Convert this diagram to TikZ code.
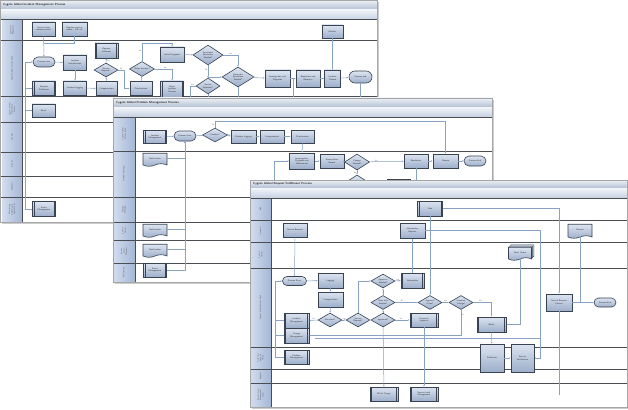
\documentclass[tikz,border=0pt]{standalone}
\usepackage{tikz}
\usetikzlibrary{positioning,arrows.meta,calc,shapes.geometric,shapes.misc,shapes.symbols,shadows}

\definecolor{boxtop}{HTML}{DCE4F0}
\definecolor{boxbot}{HTML}{9DAFCB}
\definecolor{boxline}{HTML}{394352}
\definecolor{connline}{HTML}{88A2C4}
\definecolor{lanegray}{HTML}{4A4D52}
\definecolor{titletop}{HTML}{EDF1F6}
\definecolor{titlebot}{HTML}{B3C0D3}
\definecolor{subtop}{HTML}{F3F6FA}
\definecolor{subbot}{HTML}{C3CFE1}
\definecolor{headleft}{HTML}{D3DDEE}
\definecolor{headright}{HTML}{A3B7D6}
\definecolor{tagred}{HTML}{C0282A}

\newcommand{\boxfont}{\fontsize{2.2}{2.6}\selectfont\sffamily}
\newcommand{\titlefont}{\fontsize{3}{3.5}\selectfont\sffamily\bfseries}
\newcommand{\headfont}{\fontsize{2}{2.4}\selectfont\sffamily}
\newcommand{\ynfont}{\fontsize{1.8}{2}\selectfont\sffamily}

\begin{document}
\begin{tikzpicture}[x=1pt, y=-1pt,
  proc/.style={rectangle, draw=boxline, line width=0.6pt, top color=boxtop, bottom color=boxbot,
    text width=20pt, minimum height=14pt, inner sep=1.5pt, align=center, font=\boxfont, text=black!80},
  subproc/.style={proc, path picture={\draw[boxline, line width=0.7pt]
    ([xshift=1.6pt]path picture bounding box.north west) -- ([xshift=1.6pt]path picture bounding box.south west)
    ([xshift=-1.6pt]path picture bounding box.north east) -- ([xshift=-1.6pt]path picture bounding box.south east);}},
  decision/.style={diamond, aspect=1.8, draw=boxline, line width=0.6pt, top color=boxtop, bottom color=boxbot,
    minimum width=25pt, minimum height=14pt, inner sep=0pt, align=center, font=\boxfont, text=black!80},
  term/.style={rounded rectangle, draw=boxline, line width=0.6pt, top color=boxtop, bottom color=boxbot,
    minimum width=24pt, minimum height=10pt, inner sep=1pt, align=center, font=\boxfont, text=black!80},
  doc/.style={tape, tape bend top=none, tape bend height=2.5pt, draw=boxline, line width=0.6pt,
    top color=boxtop, bottom color=boxbot, minimum width=24pt, minimum height=13pt, inner sep=1pt,
    align=center, font=\boxfont, text=black!80},
  multidoc/.style={doc,
    copy shadow={shadow xshift=2.4pt, shadow yshift=2.4pt, draw=boxline, fill=boxtop, line width=0.5pt},
    copy shadow={shadow xshift=1.2pt, shadow yshift=1.2pt, draw=boxline, fill=boxtop, line width=0.5pt}},
  numtag/.style={font=\ynfont, text=tagred, inner sep=0.4pt, anchor=north west},
  tagged/.style={label={[numtag]north west:#1}},
  yn/.style={font=\ynfont, inner sep=0.3pt, text=black!70},
  conn/.style={draw=connline, line width=0.5pt, -{Latex[length=1.6pt,width=1.4pt]}},
  connplain/.style={draw=connline, line width=0.5pt},
  lanesep/.style={draw=lanegray, line width=1pt},
  lanehead/.style={font=\headfont, rotate=90, align=center, text=black!70, inner sep=0pt},
  titletext/.style={font=\titlefont, text=black!85, anchor=west, inner sep=0pt},
  panelshadow/.style={drop shadow={shadow xshift=1.8pt, shadow yshift=-1.8pt, opacity=0.4}},
  panelframe/.style={draw=gray!70, line width=0.5pt}
]
\useasboundingbox (0,0) rectangle (628,409);
\fill[white] (0,0) rectangle (628,409);

% Incident management (back panel)
\begin{scope}[shift={(0,0)}]
\fill[white, panelshadow] (0,0) rectangle (377,222);
\shade[top color=titletop, bottom color=titlebot] (0,0) rectangle (377,9.5);
\shade[top color=subtop, bottom color=subbot] (0,9.5) rectangle (377,20);
\shade[left color=headleft, right color=headright] (2,20) rectangle (22,222);
\node[titletext] (p1title) at (3,4.8) {Cygate Global Incident Management Process};
\foreach \yy in {20,40.5,97,122,152,176,197} {\draw[lanesep] (0,\yy) -- (377,\yy);}
\draw[lanegray, line width=0.6pt] (22,20) -- (22,222);
\draw[panelframe] (0,0) rectangle (377,222);
\foreach \ya/\yb/\txt [count=\i] in {20/40.5/{Customer\\Requester}, 40.5/97/{Cygate Global Service Desk},
    97/122/{Cygate Global\\Operations\\Centre}, 122/152/{2nd Line}, 152/176/{3rd Line},
    176/197/{Suppliers}, 197/222/{Monitoring\\Systems and\\Applications}}
  {\node[lanehead] (p1h\i) at (12,{(\ya+\yb)/2}) {\txt};}

\node[proc] (custPortal) at (43.5,29) {Contact from\\customer portal};
\node[proc, text width=22pt] (custMail) at (74.5,29) {Regular email or\\phone / HR call};
\node[proc, text width=18pt, minimum height=13pt] (monitor) at (332.5,31.5) {Monitor};
\node[term] (incStart) at (44,62) {Process start};
\node[proc, minimum height=15pt, tagged=1] (incIdent) at (75,62.5) {Incident\\Identification};
\node[subproc] (reqFul) at (44,88) {Request\\Fulfilment};
\node[proc, tagged=2] (incLog) at (75,88) {Incident Logging};
\node[subproc, minimum height=15pt] (reqSub) at (106.5,50.5) {Request\\fulfilment};
\node[decision, minimum width=24pt] (srvReq) at (106,70) {Service\\Request?};
\node[proc, text width=18pt, tagged=3] (incCat) at (106.5,88.5) {Categorization};
\node[decision, minimum height=15pt] (majInc) at (142,69) {Major Incident?};
\node[proc, text width=19pt, tagged=4] (incPrio) at (141,88.5) {Prioritization};
\node[proc, text width=21pt, minimum height=15pt, tagged=5] (initDiag) at (172,54.5) {Initial Diagnosis};
\node[subproc, minimum height=16pt] (majProc) at (172,89) {Major\\Incident\\Process};
\node[decision, minimum width=30pt, minimum height=20pt] (funcEsc) at (208,55) {Functional\\Escalation\\Needed?};
\node[decision, minimum width=24pt, minimum height=16pt] (srvReq2) at (208,86) {Service\\Resolved?};
\node[decision, minimum width=32pt, minimum height=20pt] (hierEsc) at (238,77) {Hierarchic\\Escalation\\Needed?};
\node[proc, text width=22pt, minimum height=17pt, tagged=6] (invDiag) at (277.5,78.5) {Investigation and\\Diagnosis};
\node[proc, text width=21pt, minimum height=17pt, tagged=7] (resRec) at (308,78.5) {Resolution and\\Recovery};
\node[proc, text width=13pt, minimum height=17pt, tagged=8] (incClose) at (332.5,78.5) {Incident\\Closure};
\node[term, minimum width=25pt, minimum height=12pt, tagged=9] (incEnd) at (360.5,77) {Process end};
\node[proc, minimum height=13pt] (email) at (43.5,110.5) {Email};
\node[subproc, minimum height=15pt] (evtMgmt) at (44,209) {Event\\Management};

\coordinate (p1join) at (43.5,43.5);
\coordinate (p1mid) at (208,77);
\coordinate (p1a) at (190,112);
\coordinate (p1b) at (238,112);
\coordinate (p1c) at (360.5,112);
\coordinate (p1d) at (208,112);
\coordinate (p1e) at (293,112);
\draw[conn] (custPortal) -- (incStart);
\draw[connplain] (custMail.south) |- (p1join);
\draw[conn] (incStart) -- (incIdent);
\draw[conn] (incIdent) -- (incLog);
\draw[conn] (incLog) -- (incCat);
\draw[conn] (incCat) -- (srvReq);
\draw[conn] (srvReq) -- node[yn, right] (yn1) {Yes} (reqSub);
\draw[conn] (srvReq.east) -- node[yn, above] (yn2) {No} ++(6,0) |- (incPrio.west);
\draw[conn] (incPrio) -- (majInc);
\draw[conn] (majInc.north) |- node[yn, pos=0.3, left] (yn3) {No} (172,43.5) -- (initDiag.north);
\draw[conn] (majInc.east) -| node[yn, pos=0.3, above] (yn4) {Yes} (majProc.north);
\draw[conn] (initDiag) -- (funcEsc);
\draw[conn] (funcEsc.east) -| node[yn, pos=0.25, above] (yn5) {Yes} (hierEsc.north);
\draw[conn] (funcEsc) -- node[yn, pos=0.35, left] (yn6) {No} (srvReq2);
\draw[conn] (p1mid) -- (hierEsc.west);
\draw[conn] (srvReq2.west) -| node[yn, pos=0.3, above] (yn7) {Yes} (p1a);
\draw[conn] (srvReq2.south) -- node[yn, pos=0.4, right] (yn8) {No} (p1d);
\draw[conn] (hierEsc) -- (invDiag);
\draw[conn] (hierEsc.south) -- (p1b);
\draw[conn] (invDiag) -- (resRec);
\draw[connplain] (p1e) -- ++(0,-33.5);
\draw[conn] (resRec) -- (incClose);
\draw[conn] (incClose) -- (incEnd);
\draw[conn] (monitor) -- (incClose);
\draw[conn] (incEnd.south) -- (p1c);
\draw[conn] (evtMgmt.west) -- ++(-7,0) |- (incStart.west);
\draw[connplain] (email.west) -- ++(-7,0);
\draw[connplain] (reqFul.west) -- ++(-7,0);
\end{scope}

% Problem management (middle panel)
\begin{scope}[shift={(113,98)}]
\fill[white, panelshadow] (0,0) rectangle (379,184);
\shade[top color=titletop, bottom color=titlebot] (0,0) rectangle (379,9);
\shade[top color=subtop, bottom color=subbot] (0,9) rectangle (379,19);
\shade[left color=headleft, right color=headright] (0,19) rectangle (22,184);
\node[titletext] (p2title) at (3,4.5) {Cygate Global Problem Management Process};
\foreach \yy in {19,53,99,124,142,165} {\draw[lanesep] (0,\yy) -- (379,\yy);}
\draw[lanegray, line width=0.6pt] (22,19) -- (22,184);
\draw[panelframe] (0,0) rectangle (379,184);
\foreach \ya/\yb/\txt [count=\i] in {19/53/{Cygate Global\\Service Desk}, 53/99/{Problem Manager},
    99/124/{Change\\Manager}, 124/142/{Service\\Owner}, 142/165/{Service\\Level\\Manager}, 165/184/{Monitoring}}
  {\node[lanehead] (p2h\i) at (11,{(\ya+\yb)/2}) {\txt};}

\node[subproc, minimum height=13pt] (prbIncMgmt) at (42,39) {Incident\\Management};
\node[term] (prbStart) at (72,38) {Process Start};
\node[decision] (isProblem) at (102,37) {Problem?};
\node[proc, text width=22pt, minimum height=13pt, tagged=1] (prbLog) at (130.5,38.5) {Problem Logging};
\node[proc, text width=21pt, minimum height=13pt, tagged=2] (prbCat) at (159,38.5) {Categorization};
\node[proc, minimum height=13pt, tagged=3] (prbPrio) at (189.5,38.5) {Prioritization};
\node[doc] (prbNotif) at (42,60.5) {Notification};
\node[proc, text width=22pt, minimum height=16pt, tagged=4] (prbInv) at (189,63) {Investigation,\\Diagnosis and\\Workaround};
\node[proc, text width=21pt, tagged=5] (prbKer) at (219,63) {Known Error\\Record};
\node[decision, minimum height=16pt] (chgNeed) at (244,64) {Change\\Needed?};
\node[proc, text width=21pt, tagged=6] (prbRes) at (303,63) {Resolution};
\node[proc, text width=22pt, tagged=7] (prbClose) at (332.5,63) {Closure};
\node[term, tagged=8] (prbEnd) at (362,63) {Process End};
\node[decision, minimum height=16pt] (chgDec2) at (244,85) {Change\\Approved?};
\node[subproc] (chgMgmt) at (286,88) {Change\\Management};
\node[doc] (prbNotif2) at (42,131.5) {Notification};
\node[doc] (prbNotif3) at (42,151.5) {Notification};
\node[subproc] (prbEvt) at (42,172) {Event\\Management};

\coordinate (p2in) at (161,95);
\coordinate (p2out) at (303,95);
\draw[conn] (prbIncMgmt) -- (prbStart);
\draw[conn] (prbStart) -- (isProblem);
\draw[conn] (isProblem) -- node[yn, above] (yn9) {Yes} (prbLog);
\draw[conn] (isProblem.north) -- node[yn, pos=0.4, left] (yn10) {No} ++(0,-6) -| (prbClose.north);
\draw[conn] (prbLog) -- (prbCat);
\draw[conn] (prbCat) -- (prbPrio);
\draw[conn] (prbPrio) -- (prbInv);
\draw[conn] (prbInv) -- (prbKer);
\draw[conn] (prbKer) -- (chgNeed);
\draw[conn] (chgNeed) -- node[yn, pos=0.2, above] (yn11) {No} (prbRes);
\draw[conn] (prbRes) -- (prbClose);
\draw[conn] (prbClose) -- (prbEnd);
\draw[conn] (chgNeed) -- node[yn, left] (yn12) {Yes} (chgDec2);
\draw[conn] (chgDec2) -- node[yn, pos=0.3, above] (yn13) {Yes} (chgMgmt);
\draw[conn] (p2in) |- (prbInv.west);
\draw[conn] (prbRes.south) -- (p2out);
\draw[conn] (prbNotif.east) -| (prbStart.south);
\draw[conn] (prbNotif2.east) -| (prbStart.south);
\draw[conn] (prbNotif3.east) -| (prbStart.south);
\draw[conn] (prbEvt.east) -| (prbStart.south);
\end{scope}

% Request fulfilment (front panel)
\begin{scope}[shift={(250,180)}]
\fill[white, panelshadow] (0,0) rectangle (377,227);
\shade[top color=titletop, bottom color=titlebot] (0,0) rectangle (377,8);
\shade[top color=subtop, bottom color=subbot] (0,8) rectangle (377,18);
\shade[left color=headleft, right color=headright] (0,18) rectangle (21,227);
\node[titletext] (p3title) at (3,4) {Cygate Global Request Fulfillment Process};
\foreach \yy in {18,40,62,88,167,189,203} {\draw[lanesep] (0,\yy) -- (377,\yy);}
\draw[lanegray, line width=0.6pt] (21,18) -- (21,227);
\draw[panelframe] (0,0) rectangle (377,227);
\foreach \ya/\yb/\txt [count=\i] in {18/40/{Web}, 40/62/{Customer}, 62/88/{Service\\Owner},
    88/167/{Cygate Global Service Desk}, 167/189/{Technical\\Support\\Group}, 189/203/{Supplier},
    203/227/{Service Level\\Management\\Team}}
  {\node[lanehead] (p3h\i) at (10.5,{(\ya+\yb)/2}) {\txt};}

\node[subproc, text width=22pt, minimum height=15pt] (rqWeb) at (180,28.5) {Web};
\node[proc, text width=21pt] (rqSrvReq) at (45,50) {Service Request};
\node[proc, text width=22pt, minimum height=15pt] (rqInfo) at (162.5,50.5) {Information\\Request};
\node[doc, minimum height=14pt] (rqDoc) at (330,50) {Receipt};
\node[multidoc, minimum width=23pt, tagged=1] (rqWork) at (270,72.5) {Work Orders};
\node[term, minimum width=26pt, minimum height=9pt] (rqStart) at (44.5,101) {Process Start};
\node[proc, text width=22pt, minimum height=15pt, tagged=2] (rqLog) at (80.5,100.5) {Logging};
\node[proc, text width=22pt, minimum height=15pt] (rqCat) at (80.5,119.5) {Categorization};
\node[decision, minimum width=24pt] (rqDec1) at (80,140) {Standard?};
\node[decision, minimum width=24pt] (rqDec2) at (108,140) {Service\\Request?};
\node[decision, minimum width=24pt] (rqDec3) at (133,101) {Approval\\Needed?};
\node[decision, minimum width=24pt] (rqDec4) at (133,122.5) {More Info\\Needed?};
\node[decision, minimum width=24pt] (rqDec5) at (133,140) {Approved?};
\node[subproc, minimum height=15pt] (rqInfoSub) at (162.5,100.5) {Information};
\node[decision, minimum width=24pt] (rqDec6) at (180,122.5) {Approval\\Given?};
\node[decision, minimum width=24pt] (rqDec7) at (211,122.5) {Standard\\Change?};
\node[subproc, text width=25pt] (rqAppr) at (174,140) {Financial\\Approval};
\node[subproc, text width=26pt, minimum height=15pt] (rqNotify) at (241.5,144.5) {Notify};
\node[proc, text width=23pt, minimum height=17pt, tagged=3] (rqClose) at (309,122.5) {Service Request\\Closure};
\node[term, minimum height=9pt, tagged=4] (rqEnd) at (355,122.5) {Process End};
\node[subproc, text width=22pt, minimum height=15pt] (rqIncMgmt) at (46.5,140.5) {Incident\\Management};
\node[subproc, text width=22pt, minimum height=15pt] (rqChgMgmt) at (46.5,155.5) {Change\\Management};
\node[subproc, text width=22pt] (rqPrbMgmt) at (46.5,177) {Problem\\Management};
\node[proc, text width=21pt, minimum height=28pt, tagged=5] (rqFulfil) at (242,178) {Fulfilment};
\node[proc, minimum height=28pt] (rqVerify) at (272.5,178) {Service\\Verification};
\node[subproc, text width=25pt] (rqBill) at (134,214) {Bill of Charge};
\node[subproc, text width=25pt] (rqSlm) at (174,214) {Service Level\\Management};

\coordinate (p3c) at (309,215);
\coordinate (p3d) at (290,158);
\draw[conn] (rqSrvReq) -- (rqStart);
\draw[conn] (rqStart) -- (rqLog);
\draw[conn] (rqLog) -- (rqCat);
\draw[conn] (rqCat) -- (rqDec1);
\draw[conn] (rqDec1) -- node[yn, above] (yn14) {No} (rqIncMgmt);
\draw[conn] (rqDec1) -- node[yn, above] (yn15) {Yes} (rqDec2);
\draw[conn] (rqDec2) -- (rqDec5);
\draw[conn] (rqDec2.north) |- (rqDec3.west);
\draw[conn] (rqDec5) -- (rqDec4);
\draw[conn] (rqDec4) -- (rqDec3);
\draw[conn] (rqDec3) -- node[yn, above] (yn16) {Yes} (rqInfoSub);
\draw[conn] (rqInfoSub) -- (rqInfo);
\draw[conn] (rqWeb) -- (rqDec6);
\draw[conn] (rqDec4) -- node[yn, pos=0.3, above] (yn17) {No} (rqDec6);
\draw[conn] (rqDec6) -- node[yn, above] (yn18) {Yes} (rqDec7);
\draw[conn] (rqDec7.east) -| node[yn, pos=0.2, above] (yn19) {Yes} (rqNotify.north);
\draw[conn] (rqDec5) -- node[yn, pos=0.4, above] (yn20) {Yes} (rqAppr);
\draw[conn] (rqWork.south) |- (rqNotify.east);
\draw[conn] (rqNotify) -- (rqFulfil);
\draw[conn] (rqFulfil) -- (rqVerify);
\draw[conn] (rqInfo.east) -| ($(rqVerify.east)+(6,0)$) -- (rqVerify.east);
\draw[conn] (rqWeb.east) -| (rqClose.north);
\draw[connplain] (rqDoc.south) -- (rqDoc.south |- rqEnd.west);
\draw[conn] (rqClose) -- (rqEnd);
\draw[connplain] (rqClose.south) -- (p3c);
\draw[conn] (rqDec7.south) |- node[yn, pos=0.1, right] (yn21) {No} (rqChgMgmt.east);
\draw[connplain] (p3d) -- ($(rqChgMgmt.east)+(6,2.5)$);
\draw[conn] (rqDec5) -- (rqBill);
\draw[conn] (rqAppr) -- (rqSlm);
\draw[conn] (rqPrbMgmt.west) -- ++(-8,0) |- (rqStart.west);
\draw[connplain] (rqIncMgmt.west) -- ++(-8,0);
\draw[connplain] (rqChgMgmt.west) -- ++(-8,0);
\end{scope}
\end{tikzpicture}
\end{document}
